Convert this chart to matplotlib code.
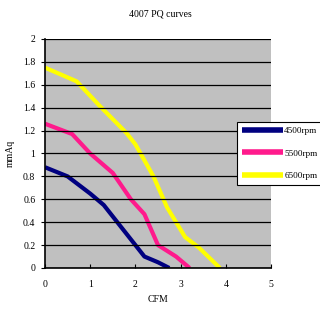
import matplotlib
matplotlib.use('Agg')
import matplotlib.pyplot as plt

plt.rcParams['font.family'] = ['Liberation Serif', 'DejaVu Serif']

# 读数 (CFM, mmAq)
x_4500 = [0, 0.5, 1.0, 1.3, 1.6, 2.0, 2.2, 2.5, 2.75]
y_4500 = [0.88, 0.8, 0.65, 0.55, 0.4, 0.2, 0.1, 0.05, 0]
x_5500 = [0, 0.6, 1.0, 1.5, 1.9, 2.2, 2.5, 2.9, 3.2]
y_5500 = [1.26, 1.17, 1.0, 0.83, 0.6, 0.47, 0.2, 0.1, 0]
x_6500 = [0, 0.7, 1.2, 1.8, 2.0, 2.4, 2.7, 3.1, 3.4, 3.87]
y_6500 = [1.75, 1.63, 1.42, 1.18, 1.08, 0.8, 0.53, 0.27, 0.18, 0]
labels = ['4500rpm', '5500rpm', '6500rpm']

fig = plt.figure(figsize=(3.2, 3.09), dpi=100)
ax = fig.add_axes([0.1406, 0.1327, 0.7062, 0.7411])
ax.set_facecolor('#C0C0C0')

style = dict(lw=3, solid_joinstyle='round', solid_capstyle='butt')
ax.plot(x_4500, y_4500, color='#000080', label=labels[0], **style)
ax.plot(x_5500, y_5500, color='#FF1A8C', label=labels[1], **style)
ax.plot(x_6500, y_6500, color='#FFFF00', label=labels[2], **style)

ax.set_xlim(0, 5)
ax.set_ylim(0, 2)
ax.set_xticks(range(6))
ax.set_yticks([i * 0.2 for i in range(11)])
ax.set_yticklabels(['0', '0.2', '0.4', '0.6', '0.8', '1', '1.2', '1.4', '1.6', '1.8', '2'])
ax.yaxis.grid(True, color='black', lw=0.9)
ax.set_axisbelow(False)
ax.tick_params(axis='x', direction='in', length=3, pad=9, labelsize=7)
ax.tick_params(axis='y', direction='out', length=3, pad=4, labelsize=7)
ax.spines['right'].set_visible(False)
ax.spines['top'].set_visible(False)
ax.spines['left'].set_linewidth(1.2)
ax.spines['bottom'].set_linewidth(1.2)

ax.set_xlabel('CFM', fontsize=7, labelpad=4)
ax.set_ylabel('mmAq', fontsize=7, labelpad=6)
fig.text(0.5, 0.955, '4007 PQ curves', ha='center', va='center', fontsize=7)

leg = fig.legend(loc='upper left', bbox_to_anchor=(237 / 320, 1 - 122 / 309),
                 fontsize=6.6, handlelength=4.5, labelspacing=1.55, handletextpad=0.15,
                 borderpad=0.5, borderaxespad=0, fancybox=False, framealpha=1,
                 edgecolor='black')
leg.get_frame().set_linewidth(0.8)
for h in leg.get_lines():
    h.set_linewidth(4)
    h.set_solid_capstyle('butt')

plt.savefig('out.png', dpi=100)
